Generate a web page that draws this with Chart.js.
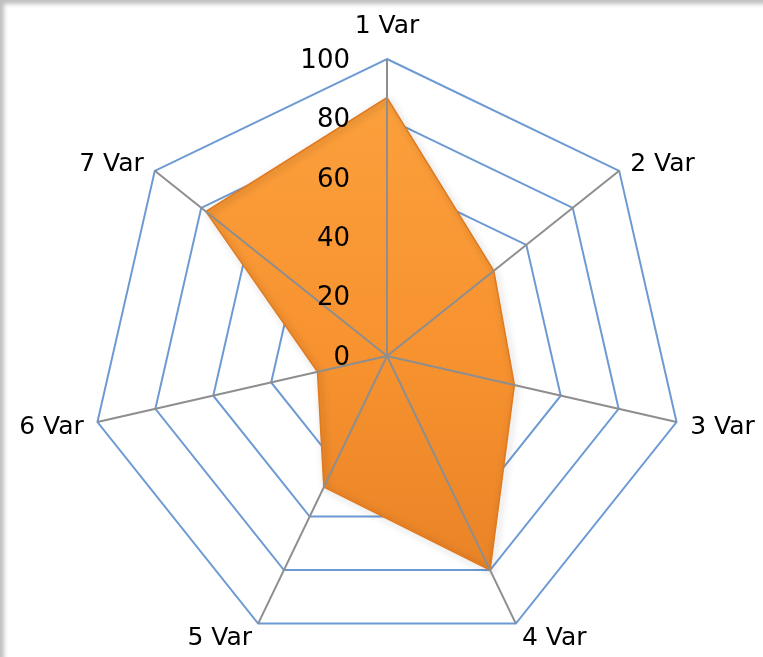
<!DOCTYPE html>
<html>
<head>
<meta charset="utf-8">
<script src="https://cdn.jsdelivr.net/npm/chart.js@4.4.1/dist/chart.umd.min.js"></script>
<style>
    html, body { margin: 0; padding: 0; background: #fff; }
    .frame {
        width: 763px;
        height: 657px;
        box-shadow: inset 6px 6px 4px -2px rgba(0, 0, 0, 0.25);
    }
    canvas { display: block; }
</style>
</head>
<body>
<div class="frame">
    <canvas id="radarChart" width="763" height="657"></canvas>
</div>
<script>
const categories = ['1 Var', '2 Var', '3 Var', '4 Var', '5 Var', '6 Var', '7 Var'];
const values = [87, 46, 44, 80, 49, 24, 78];
const tickValues = [0, 20, 40, 60, 80, 100];

const FONT = '"DejaVu Sans", Verdana, sans-serif';

// soft drop shadow under the filled area
const shadowPlugin = {
    id: 'shadow',
    beforeDatasetDraw(chart) {
        const ctx = chart.ctx;
        ctx.save();
        ctx.shadowColor = 'rgba(0, 0, 0, 0.35)';
        ctx.shadowBlur = 7;
        ctx.shadowOffsetX = 2;
        ctx.shadowOffsetY = 2;
    },
    afterDatasetDraw(chart) {
        chart.ctx.restore();
    }
};

// tick labels left of the vertical axis and category labels round the outside
const labelPlugin = {
    id: 'labels',
    afterDraw(chart) {
        const ctx = chart.ctx;
        const scale = chart.scales.r;
        ctx.save();
        ctx.fillStyle = '#000';

        ctx.font = '26px ' + FONT;
        ctx.textAlign = 'right';
        ctx.textBaseline = 'middle';
        tickValues.forEach(v => {
            const d = scale.getDistanceFromCenterForValue(v);
            ctx.fillText(String(v), scale.xCenter - 37, scale.yCenter - d + 2);
        });

        ctx.font = '25px ' + FONT;
        categories.forEach((label, i) => {
            const pos = scale.getPointPosition(i, scale.drawingArea + 14);
            let y = pos.y;
            if (Math.abs(pos.x - scale.xCenter) < 2) {
                ctx.textAlign = 'center';
                y -= 21;
            } else if (pos.x > scale.xCenter) {
                ctx.textAlign = 'left';
            } else {
                ctx.textAlign = 'right';
            }
            ctx.fillText(label, pos.x, y + 2);
        });
        ctx.restore();
    }
};

const ctx = document.getElementById('radarChart').getContext('2d');

new Chart(ctx, {
    type: 'radar',
    data: {
        labels: categories,
        datasets: [{
            data: values,
            rAxisID: 'r',
            backgroundColor: (context) => {
                const area = context.chart.chartArea;
                if (!area) return '#F7922F';
                const g = context.chart.ctx.createLinearGradient(0, area.top, 0, area.bottom);
                g.addColorStop(0, '#FCA23E');
                g.addColorStop(0.5, '#F7922F');
                g.addColorStop(1, '#E47E24');
                return g;
            },
            borderColor: '#E0791F',
            borderWidth: 1.5,
            pointRadius: 0,
            tension: 0,
            fill: true
        }]
    },
    options: {
        responsive: false,
        animation: false,
        layout: {
            padding: { left: 90, right: 79, top: 59, bottom: 4 }
        },
        plugins: {
            legend: { display: false },
            tooltip: { enabled: false }
        },
        scales: {
            r: {
                min: tickValues[0],
                max: tickValues[tickValues.length - 1],
                ticks: { display: false, stepSize: 20 },
                pointLabels: { display: false },
                angleLines: { display: false },
                grid: { color: '#6D9AD2', lineWidth: 2 }
            },
            // second scale only for the spokes, drawn above the fill
            r2: {
                type: 'radialLinear',
                min: tickValues[0],
                max: tickValues[tickValues.length - 1],
                ticks: { display: false, stepSize: 20 },
                pointLabels: { display: false },
                grid: { display: false, z: 1 },
                angleLines: { display: true, color: '#8E8E8E', lineWidth: 2 }
            }
        }
    },
    plugins: [shadowPlugin, labelPlugin]
});
</script>
</body>
</html>
